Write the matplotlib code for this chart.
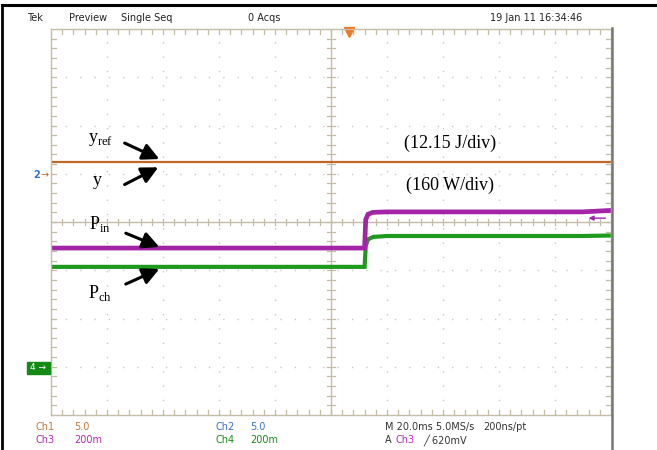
import matplotlib
matplotlib.use("Agg")
import matplotlib.pyplot as plt
from matplotlib.lines import Line2D
from matplotlib.patches import Rectangle

# ---- data (in screen divisions) ----
t_div = [0.0, 5.60, 5.62, 5.66, 5.75, 6.0, 9.5, 10.0]
ch1_yref = [1.24, 1.24, 1.24, 1.24, 1.24, 1.24, 1.24, 1.24]
ch3_pin = [-0.54, -0.54, 0.05, 0.16, 0.20, 0.21, 0.21, 0.24]
ch4_pch = [-0.93, -0.93, -0.50, -0.36, -0.31, -0.29, -0.29, -0.28]

header_texts = ["Tek", "Preview", "Single Seq", "0 Acqs", "19 Jan 11 16:34:46"]
header_x = [27, 69, 121, 248, 490]

serif = "Liberation Serif"
plt.rcParams["mathtext.fontset"] = "custom"
plt.rcParams["mathtext.rm"] = serif

W, H = 657, 450
fig = plt.figure(figsize=(W / 100, H / 100), dpi=100)
fig.patch.set_facecolor("white")

def px(x, y):
    return x / W, 1 - y / H

# outer frame
fig.add_artist(Line2D([2 / W, 2 / W], [0, 1 - 5 / H], color="black", lw=2.0))
fig.add_artist(Line2D([2 / W, 1], [1 - 5 / H, 1 - 5 / H], color="black", lw=2.2))
fig.add_artist(Line2D([612 / W, 612 / W], [0, 1 - 28 / H], color="#777777", lw=1.8))

# graticule axes
L, R, T, B = 51, 611, 29, 415
ax = fig.add_axes([L / W, 1 - B / H, (R - L) / W, (B - T) / H])
ax.set_xlim(0, 10)
ax.set_ylim(-4, 4)
ax.set_xticks([])
ax.set_yticks([])
gcol = "#c4bca6"
for s in ax.spines.values():
    s.set_color(gcol)
    s.set_linewidth(1.0)

# dotted grid
for i in range(1, 10):
    if i == 5:
        continue
    ax.plot([i, i], [-4, 4], color="#c8c8c8", lw=1.0, ls=(0, (1, 9.3)))
for j in range(-3, 4):
    if j == 0:
        continue
    ax.plot([0, 10], [j, j], color="#c8c8c8", lw=1.0, ls=(0, (1, 9.3)))

# center cross-hair with ticks
ax.plot([5, 5], [-4, 4], color=gcol, lw=1.0)
ax.plot([0, 10], [0, 0], color=gcol, lw=1.0)
for k in range(1, 50):
    x = k * 0.2
    ax.plot([x, x], [-0.07, 0.07], color=gcol, lw=0.9)
    ax.plot([x, x], [-4, -3.9], color=gcol, lw=0.9)
    ax.plot([x, x], [4, 3.9], color=gcol, lw=0.9)
for k in range(1, 40):
    y = -4 + k * 0.2
    ax.plot([4.93, 5.07], [y, y], color=gcol, lw=0.9)
    ax.plot([0, 0.09], [y, y], color=gcol, lw=0.9)
    ax.plot([10, 9.91], [y, y], color=gcol, lw=0.9)

# traces
ax.plot(t_div, ch1_yref, color="#c0682a", lw=1.6, solid_capstyle="butt")
ax.plot(t_div, ch4_pch, color="#1f9a1f", lw=3.0, solid_capstyle="butt", solid_joinstyle="miter")
ax.plot(t_div, ch3_pin, color="#a424a8", lw=3.4, solid_capstyle="butt", solid_joinstyle="miter")

# trigger markers
ax.plot([5.32], [3.93], marker="v", color="#f07820", ms=7, clip_on=False)
ax.annotate("", xy=(9.55, 0.08), xytext=(9.95, 0.08),
            arrowprops=dict(arrowstyle="-|>", color="#a424a8", lw=1.0, mutation_scale=7))

# annotations
ax.text(0.88, 1.70, r"y$_{\mathregular{ref}}$", fontsize=13, family=serif, ha="center", va="center")
ax.text(0.82, 0.87, "y", fontsize=13, family=serif, ha="center", va="center")
ax.text(0.875, -0.04, r"P$_{\mathregular{in}}$", fontsize=13, family=serif, ha="center", va="center")
ax.text(0.875, -1.47, r"P$_{\mathregular{ch}}$", fontsize=13, family=serif, ha="center", va="center")

arrow_kw = dict(arrowstyle="-|>,head_length=1.0,head_width=0.5", color="black", lw=2.2, mutation_scale=10)
ax.annotate("", xy=(1.98, 1.28), xytext=(1.27, 1.66), arrowprops=arrow_kw)
ax.annotate("", xy=(1.96, 1.16), xytext=(1.27, 0.75), arrowprops=arrow_kw)
ax.annotate("", xy=(1.98, -0.54), xytext=(1.29, -0.21), arrowprops=arrow_kw)
ax.annotate("", xy=(1.98, -0.95), xytext=(1.29, -1.31), arrowprops=arrow_kw)

ax.text(7.13, 1.64, "(12.15 J/div)", fontsize=13, family=serif, ha="center", va="center")
ax.text(7.13, 0.75, "(160 W/div)", fontsize=13, family=serif, ha="center", va="center")

# left channel markers
fig.text(*px(37, 175), "2", color="#3a6fc8", fontsize=7, fontweight="bold", ha="center", va="center")
fig.text(*px(45, 175), "→", color="#c0682a", fontsize=7, ha="center", va="center")
fig.add_artist(Rectangle(px(27, 374), 23 / W, 12 / H, color="#138a13"))
fig.text(*px(38, 368), "4 →", color="white", fontsize=6.5, ha="center", va="center")

# header
for s, x in zip(header_texts, header_x):
    fig.text(*px(x, 18), s, fontsize=7, ha="left", va="center", color="#222222")

# footer
c1, c2, c3, c4 = "#c07a3a", "#3a6fc8", "#b02cb0", "#1a8a1a"
foot = [
    (36, 427, "Ch1", c1), (74, 427, "5.0", c1),
    (216, 427, "Ch2", c2), (250, 427, "5.0", c2),
    (385, 427, "M 20.0ms 5.0MS/s", "#333333"), (483, 427, "200ns/pt", "#333333"),
    (36, 440, "Ch3", c3), (74, 440, "200m", c3),
    (216, 440, "Ch4", c4), (250, 440, "200m", c4),
    (385, 440, "A", "#333333"), (395, 440, "Ch3", c3), (423, 440, "╱ 620mV", "#333333"),
]
for x, y, s, c in foot:
    fig.text(*px(x, y), s, fontsize=7, ha="left", va="center", color=c,
             family=["DejaVu Sans"])

fig.savefig("out.png", dpi=100)
